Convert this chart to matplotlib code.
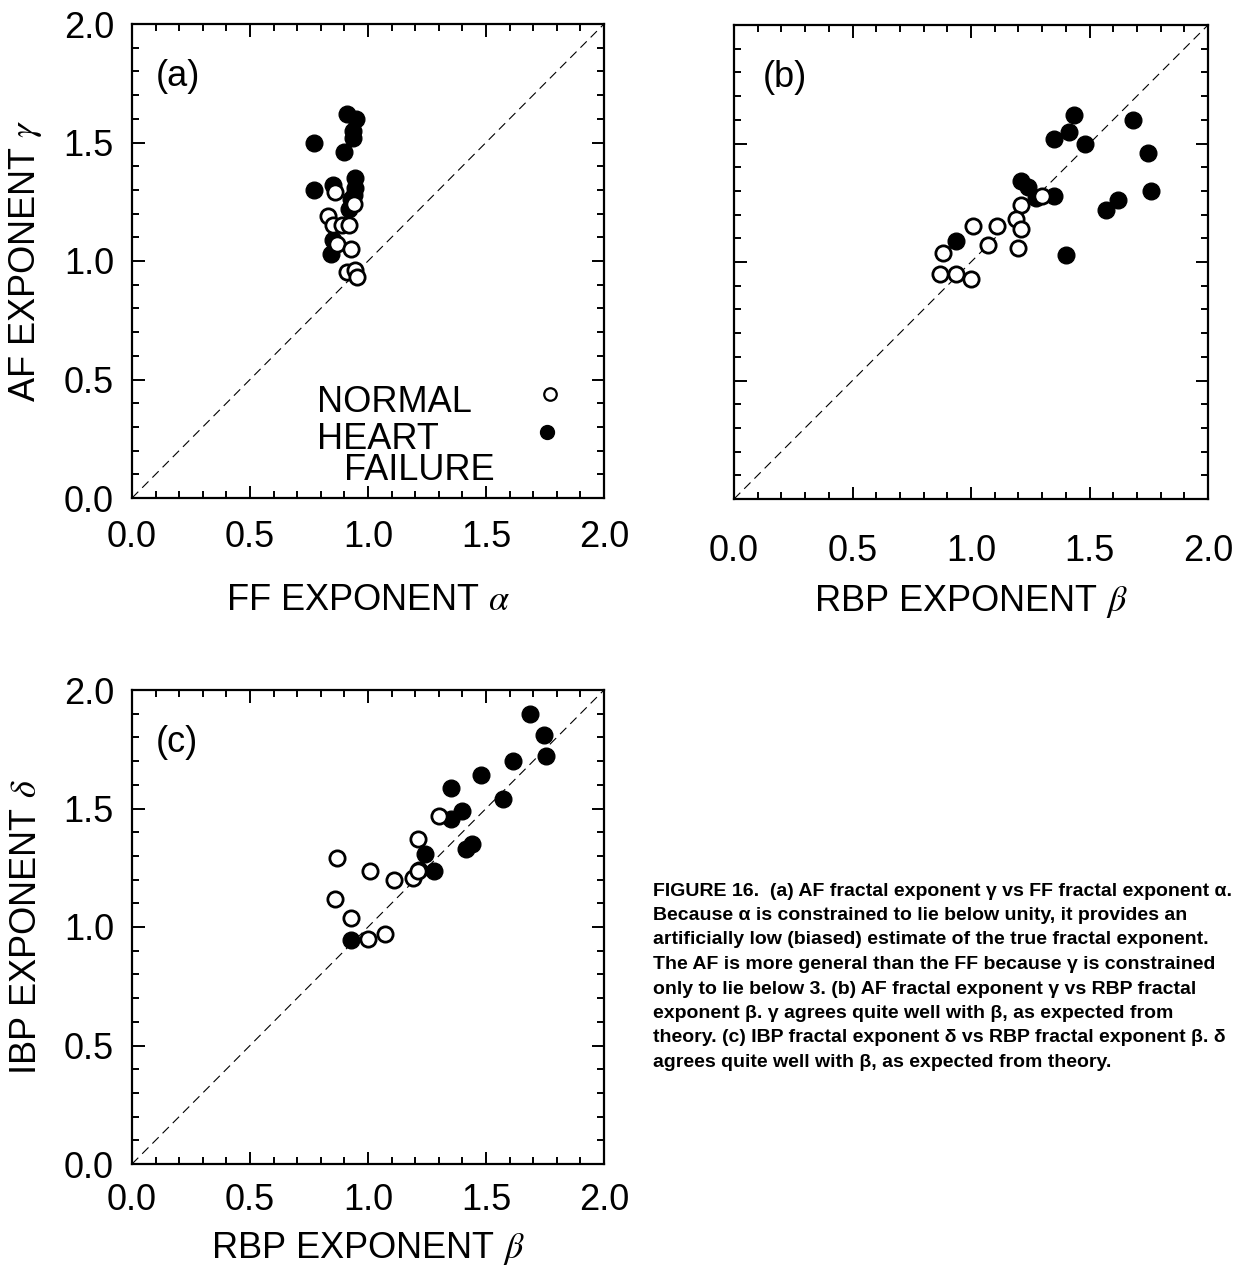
import matplotlib
matplotlib.use("Agg")
import matplotlib.pyplot as plt
from matplotlib import font_manager
from matplotlib.ticker import MultipleLocator

plt.rcParams['font.family'] = ['Liberation Sans', 'DejaVu Sans']
plt.rcParams['mathtext.fontset'] = 'stix'

# ---- Panel (a): AF exponent gamma vs FF exponent alpha ----
a_norm_alpha = [0.86, 0.94, 0.83, 0.85, 0.89, 0.92, 0.87, 0.93, 0.91, 0.945, 0.953]
a_norm_gamma = [1.29, 1.24, 1.19, 1.15, 1.15, 1.15, 1.07, 1.05, 0.955, 0.962, 0.932]
a_hf_alpha = [0.91, 0.95, 0.935, 0.935, 0.77, 0.90, 0.945, 0.77, 0.85, 0.945, 0.94, 0.93, 0.92, 0.85, 0.845]
a_hf_gamma = [1.62, 1.60, 1.55, 1.52, 1.50, 1.46, 1.35, 1.30, 1.32, 1.31, 1.28, 1.26, 1.22, 1.09, 1.03]

# ---- Panel (b): AF exponent gamma vs RBP exponent beta ----
b_norm_beta = [1.30, 1.21, 1.19, 1.21, 1.20, 1.11, 1.01, 1.07, 0.88, 0.87, 0.935, 1.00]
b_norm_gamma = [1.28, 1.24, 1.18, 1.14, 1.06, 1.15, 1.15, 1.07, 1.04, 0.95, 0.95, 0.93]
b_hf_beta = [1.435, 1.685, 1.415, 1.35, 1.48, 1.745, 1.21, 1.24, 1.275, 1.35, 1.76, 1.62, 1.57, 1.40, 0.935]
b_hf_gamma = [1.62, 1.60, 1.55, 1.52, 1.50, 1.46, 1.34, 1.315, 1.27, 1.28, 1.30, 1.26, 1.22, 1.03, 1.09]

# ---- Panel (c): IBP exponent delta vs RBP exponent beta ----
c_norm_beta = [1.30, 1.21, 1.19, 1.21, 0.87, 1.01, 1.11, 0.86, 0.93, 1.00, 1.07]
c_norm_delta = [1.47, 1.37, 1.205, 1.235, 1.29, 1.235, 1.20, 1.12, 1.04, 0.95, 0.97]
c_hf_beta = [1.685, 1.745, 1.755, 1.615, 1.48, 1.35, 1.40, 1.35, 1.57, 1.44, 1.415, 1.24, 1.28, 1.215, 0.93]
c_hf_delta = [1.90, 1.81, 1.72, 1.70, 1.64, 1.585, 1.49, 1.455, 1.54, 1.35, 1.33, 1.31, 1.235, 1.24, 0.945]

ticks = [0.0, 0.5, 1.0, 1.5, 2.0]
tick_labels = ["0.0", "0.5", "1.0", "1.5", "2.0"]

legend_labels = ["NORMAL", "HEART", "FAILURE"]

caption_lines = [
    "FIGURE 16.  (a) AF fractal exponent \u03b3 vs FF fractal exponent \u03b1.",
    "Because \u03b1 is constrained to lie below unity, it provides an",
    "artificially low (biased) estimate of the true fractal exponent.",
    "The AF is more general than the FF because \u03b3 is constrained",
    "only to lie below 3. (b) AF fractal exponent \u03b3 vs RBP fractal",
    "exponent \u03b2. \u03b3 agrees quite well with \u03b2, as expected from",
    "theory. (c) IBP fractal exponent \u03b4 vs RBP fractal exponent \u03b2. \u03b4",
    "agrees quite well with \u03b2, as expected from theory.",
]

W, H = 1240, 1274
fig = plt.figure(figsize=(W / 100, H / 100), dpi=100)


def box(l, t, r, b):
    return [l / W, 1 - b / H, (r - l) / W, (b - t) / H]


FS = 26


def style(ax, xlabel, ylabel, ylabels=True, xpad=16, xlabelpad=12):
    ax.set_xlim(0, 2)
    ax.set_ylim(0, 2)
    ax.plot([0, 2], [0, 2], color='black', lw=0.8, ls=(0, (8, 5)), zorder=1)
    ax.xaxis.set_major_locator(MultipleLocator(0.5))
    ax.yaxis.set_major_locator(MultipleLocator(0.5))
    ax.xaxis.set_minor_locator(MultipleLocator(0.1))
    ax.yaxis.set_minor_locator(MultipleLocator(0.1))
    ax.tick_params(which='both', direction='in', top=True, right=True, width=1.4)
    ax.tick_params(which='major', length=9)
    ax.tick_params(which='minor', length=5)
    ax.tick_params(axis='x', which='major', labelsize=FS, pad=xpad)
    ax.tick_params(axis='y', which='major', labelsize=FS, pad=13)
    ax.set_xticks(ticks)
    ax.set_xticklabels(tick_labels)
    ax.set_yticks(ticks)
    if ylabels:
        ax.set_yticklabels(tick_labels)
    else:
        ax.set_yticklabels([])
    for s in ax.spines.values():
        s.set_linewidth(1.6)
    if xlabel:
        ax.set_xlabel(xlabel, fontsize=FS, labelpad=xlabelpad)
    if ylabel:
        ax.set_ylabel(ylabel, fontsize=FS, labelpad=14)


def scatter(ax, xn, yn, xh, yh):
    ax.plot(xh, yh, 'o', ms=12, mfc='black', mec='black', mew=1.0, ls='none', zorder=3)
    ax.plot(xn, yn, 'o', ms=11, mfc='white', mec='black', mew=2.0, ls='none', zorder=4)


# Panel (a)
ax_a = fig.add_axes(box(132, 24, 604, 498))
style(ax_a, r"FF EXPONENT $\alpha$", r"AF EXPONENT $\gamma$", xlabelpad=20)
scatter(ax_a, a_norm_alpha, a_norm_gamma, a_hf_alpha, a_hf_gamma)
ax_a.text(0.1, 1.78, "(a)", fontsize=FS, ha='left', va='center')
ax_a.text(0.785, 0.405, legend_labels[0], fontsize=FS, ha='left', va='center')
ax_a.text(0.785, 0.245, legend_labels[1], fontsize=FS, ha='left', va='center')
ax_a.text(0.90, 0.115, legend_labels[2], fontsize=FS, ha='left', va='center')
ax_a.plot([1.77], [0.44], 'o', ms=9, mfc='white', mec='black', mew=1.6, ls='none')
ax_a.plot([1.76], [0.28], 'o', ms=10, mfc='black', mec='black', ls='none')

# Panel (b)
ax_b = fig.add_axes(box(734, 25, 1208, 499))
style(ax_b, r"RBP EXPONENT $\beta$", None, ylabels=False, xpad=25, xlabelpad=10)
scatter(ax_b, b_norm_beta, b_norm_gamma, b_hf_beta, b_hf_gamma)
ax_b.text(0.12, 1.78, "(b)", fontsize=FS, ha='left', va='center')

# Panel (c)
ax_c = fig.add_axes(box(132, 690, 604, 1164))
style(ax_c, r"RBP EXPONENT $\beta$", r"IBP EXPONENT $\delta$", xpad=14, xlabelpad=8)
scatter(ax_c, c_norm_beta, c_norm_delta, c_hf_beta, c_hf_delta)
ax_c.text(0.1, 1.78, "(c)", fontsize=FS, ha='left', va='center')

# Caption
names = {f.name for f in font_manager.fontManager.ttflist}
cap_family = ['Liberation Sans Narrow', 'Liberation Sans', 'DejaVu Sans'] if 'Liberation Sans Narrow' in names else ['Liberation Sans', 'DejaVu Sans']
for i, line in enumerate(caption_lines):
    fig.text(653 / W, 1 - (891 + i * 24.5) / H, line, fontsize=14, fontweight='bold',
             family=cap_family, ha='left', va='center')

fig.savefig("out.png", dpi=100)
